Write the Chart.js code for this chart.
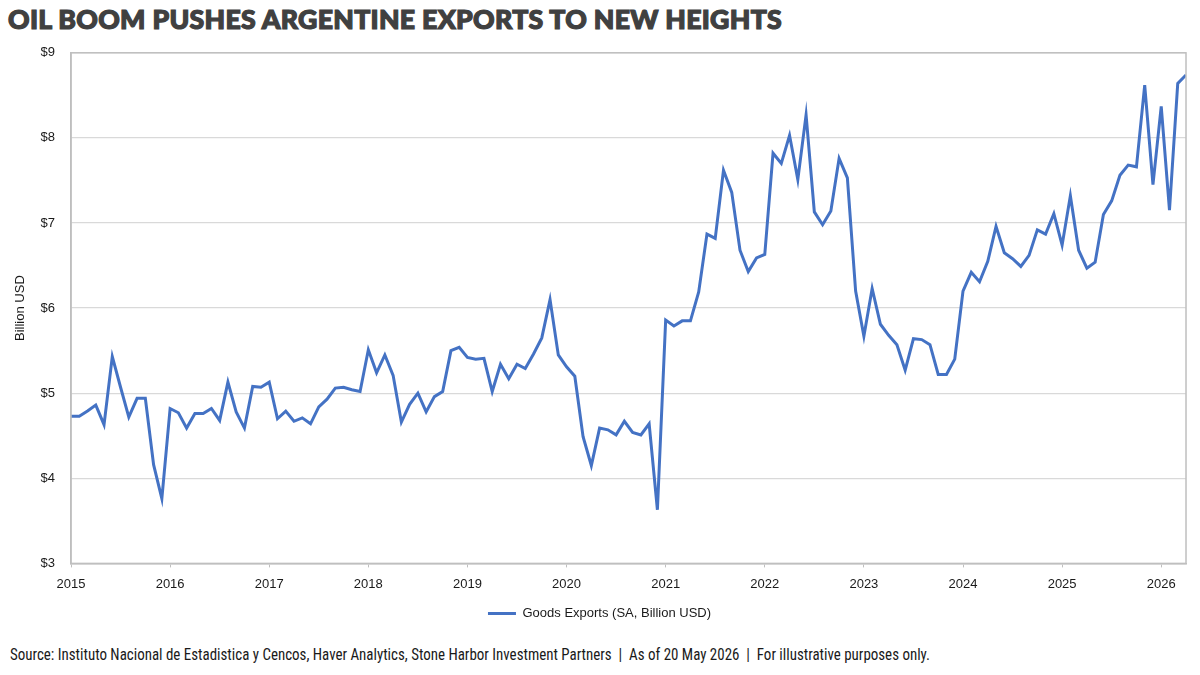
<!DOCTYPE html>
<html>
<head>
<meta charset="utf-8">
<script src="https://cdn.jsdelivr.net/npm/chart.js@4.4.1/dist/chart.umd.min.js"></script>
<style>
  html, body { margin: 0; padding: 0; background: #fff; }
  body { width: 1200px; height: 675px; position: relative; overflow: hidden; }
  #title {
    position: absolute; left: 8px; top: 3px;
    font-family: Lato, "Open Sans", sans-serif; font-weight: 900; font-size: 26px;
    color: #404040; white-space: nowrap; transform-origin: left top; letter-spacing: 0.3px;
    -webkit-text-stroke: 1.2px #404040;
  }
  #wrap { position: absolute; left: 0; top: 29px; width: 1200px; height: 607px; }
  #footer {
    position: absolute; left: 10px; top: 644px;
    font-family: "Liberation Sans Narrow", "Roboto Condensed", Roboto, sans-serif; font-size: 17px;
    color: #1a1a1a; white-space: nowrap; transform-origin: left top;
  }
</style>
</head>
<body>
<div id="title">OIL BOOM PUSHES ARGENTINE EXPORTS TO NEW HEIGHTS</div>
<div id="wrap"><canvas id="chart"></canvas></div>
<div id="footer">Source: Instituto Nacional de Estadistica y Cencos, Haver Analytics, Stone Harbor Investment Partners&nbsp; |&nbsp; As of 20 May 2026&nbsp; |&nbsp; For illustrative purposes only.</div>
<script>
// Monthly goods exports, billion USD (seasonally adjusted), Jan..Dec of each year
const startYear = 2015;
const y2015 = [4.73, 4.73, 4.79, 4.86, 4.63, 5.43, 5.07, 4.72, 4.94, 4.94, 4.16, 3.76];
const y2016 = [4.82, 4.77, 4.59, 4.76, 4.76, 4.82, 4.68, 5.13, 4.78, 4.59, 5.08, 5.07];
const y2017 = [5.13, 4.70, 4.79, 4.67, 4.71, 4.64, 4.84, 4.93, 5.06, 5.07, 5.04, 5.02];
const y2018 = [5.51, 5.24, 5.45, 5.21, 4.66, 4.87, 5.00, 4.78, 4.96, 5.02, 5.50, 5.54];
const y2019 = [5.42, 5.40, 5.41, 5.02, 5.34, 5.17, 5.34, 5.29, 5.46, 5.65, 6.10, 5.45];
const y2020 = [5.31, 5.20, 4.49, 4.15, 4.59, 4.57, 4.51, 4.67, 4.54, 4.51, 4.64, 3.63];
const y2021 = [5.86, 5.79, 5.85, 5.85, 6.19, 6.87, 6.82, 7.62, 7.36, 6.68, 6.43, 6.59];
const y2022 = [6.63, 7.82, 7.70, 8.03, 7.51, 8.27, 7.13, 6.98, 7.14, 7.76, 7.53, 6.20];
const y2023 = [5.67, 6.23, 5.81, 5.68, 5.57, 5.27, 5.64, 5.63, 5.57, 5.22, 5.22, 5.40];
const y2024 = [6.20, 6.42, 6.31, 6.55, 6.96, 6.65, 6.58, 6.49, 6.62, 6.92, 6.87, 7.11];
const y2025 = [6.74, 7.32, 6.68, 6.47, 6.54, 7.10, 7.26, 7.56, 7.68, 7.66, 8.62, 7.45];
const y2026 = [8.37, 7.15, 8.64, 8.74];

const yTicks = [3, 4, 5, 6, 7, 8, 9];
const xTicks = [2015, 2016, 2017, 2018, 2019, 2020, 2021, 2022, 2023, 2024, 2025, 2026];
const seriesLabel = 'Goods Exports (SA, Billion USD)';

const monthly = [].concat(y2015, y2016, y2017, y2018, y2019, y2020, y2021, y2022, y2023, y2024, y2025, y2026);
const points = monthly.map((v, i) => ({ x: startYear + i / 12, y: v }));
const lastX = startYear + (monthly.length - 1) / 12;

const GRID = '#d9d9d9';
const FRAME = '#bfbfbf';
const TEXT = '#1a1a1a';

// draws the grey box round the plot area (top and right sides)
const frame = {
  id: 'frame',
  afterDraw(chart) {
    const { ctx, chartArea: a } = chart;
    ctx.save();
    ctx.strokeStyle = FRAME;
    ctx.lineWidth = 1.5;
    ctx.strokeRect(a.left, a.top, a.right - a.left, a.bottom - a.top);
    ctx.restore();
  }
};

Chart.defaults.font.family = '"Liberation Sans", Arial, sans-serif';
Chart.defaults.color = TEXT;

new Chart(document.getElementById('chart'), {
  type: 'line',
  data: {
    datasets: [{
      label: seriesLabel,
      data: points,
      borderColor: '#4472c4',
      backgroundColor: '#4472c4',
      borderWidth: 3,
      pointRadius: 0,
      tension: 0,
    }],
  },
  options: {
    responsive: true,
    maintainAspectRatio: false,
    animation: false,
    layout: { padding: { left: 13, right: 14, top: 1, bottom: 6 } },
    plugins: {
      legend: {
        position: 'bottom',
        labels: {
          usePointStyle: true,
          pointStyle: 'line',
          pointStyleWidth: 28,
          font: { size: 13 },
          color: TEXT,
          padding: 12,
        },
      },
      tooltip: { enabled: false },
    },
    scales: {
      x: {
        type: 'linear',
        min: startYear,
        max: lastX,
        afterBuildTicks: (s) => { s.ticks = xTicks.map(v => ({ value: v })); },
        afterFit: (s) => { s.height -= 6; },
        ticks: {
          font: { size: 13 },
          color: TEXT,
          padding: 9,
          maxRotation: 0,
          callback: (v) => String(v),
        },
        grid: { drawOnChartArea: false, drawTicks: true, tickLength: 4, color: FRAME },
        border: { color: FRAME, width: 1.5 },
      },
      y: {
        min: 3,
        max: 9,
        afterBuildTicks: (s) => { s.ticks = yTicks.map(v => ({ value: v })); },
        afterFit: (s) => { s.width = 58; },
        ticks: {
          font: { size: 13 },
          color: TEXT,
          padding: 16,
          callback: (v) => '$' + v,
        },
        title: {
          display: true,
          text: 'Billion USD',
          font: { size: 13 },
          color: TEXT,
          padding: 0,
        },
        grid: { color: GRID, drawTicks: false, lineWidth: 1.2 },
        border: { color: FRAME, width: 1.5 },
      },
    },
  },
  plugins: [frame],
});

// squeeze heading and footnote to the widths they have in the reference
function fit(id, width) {
  const el = document.getElementById(id);
  const w = el.getBoundingClientRect().width;
  if (w > 0) el.style.transform = 'scaleX(' + (width / w) + ')';
}
fit('title', 774);
fit('footer', 920);
</script>
</body>
</html>
